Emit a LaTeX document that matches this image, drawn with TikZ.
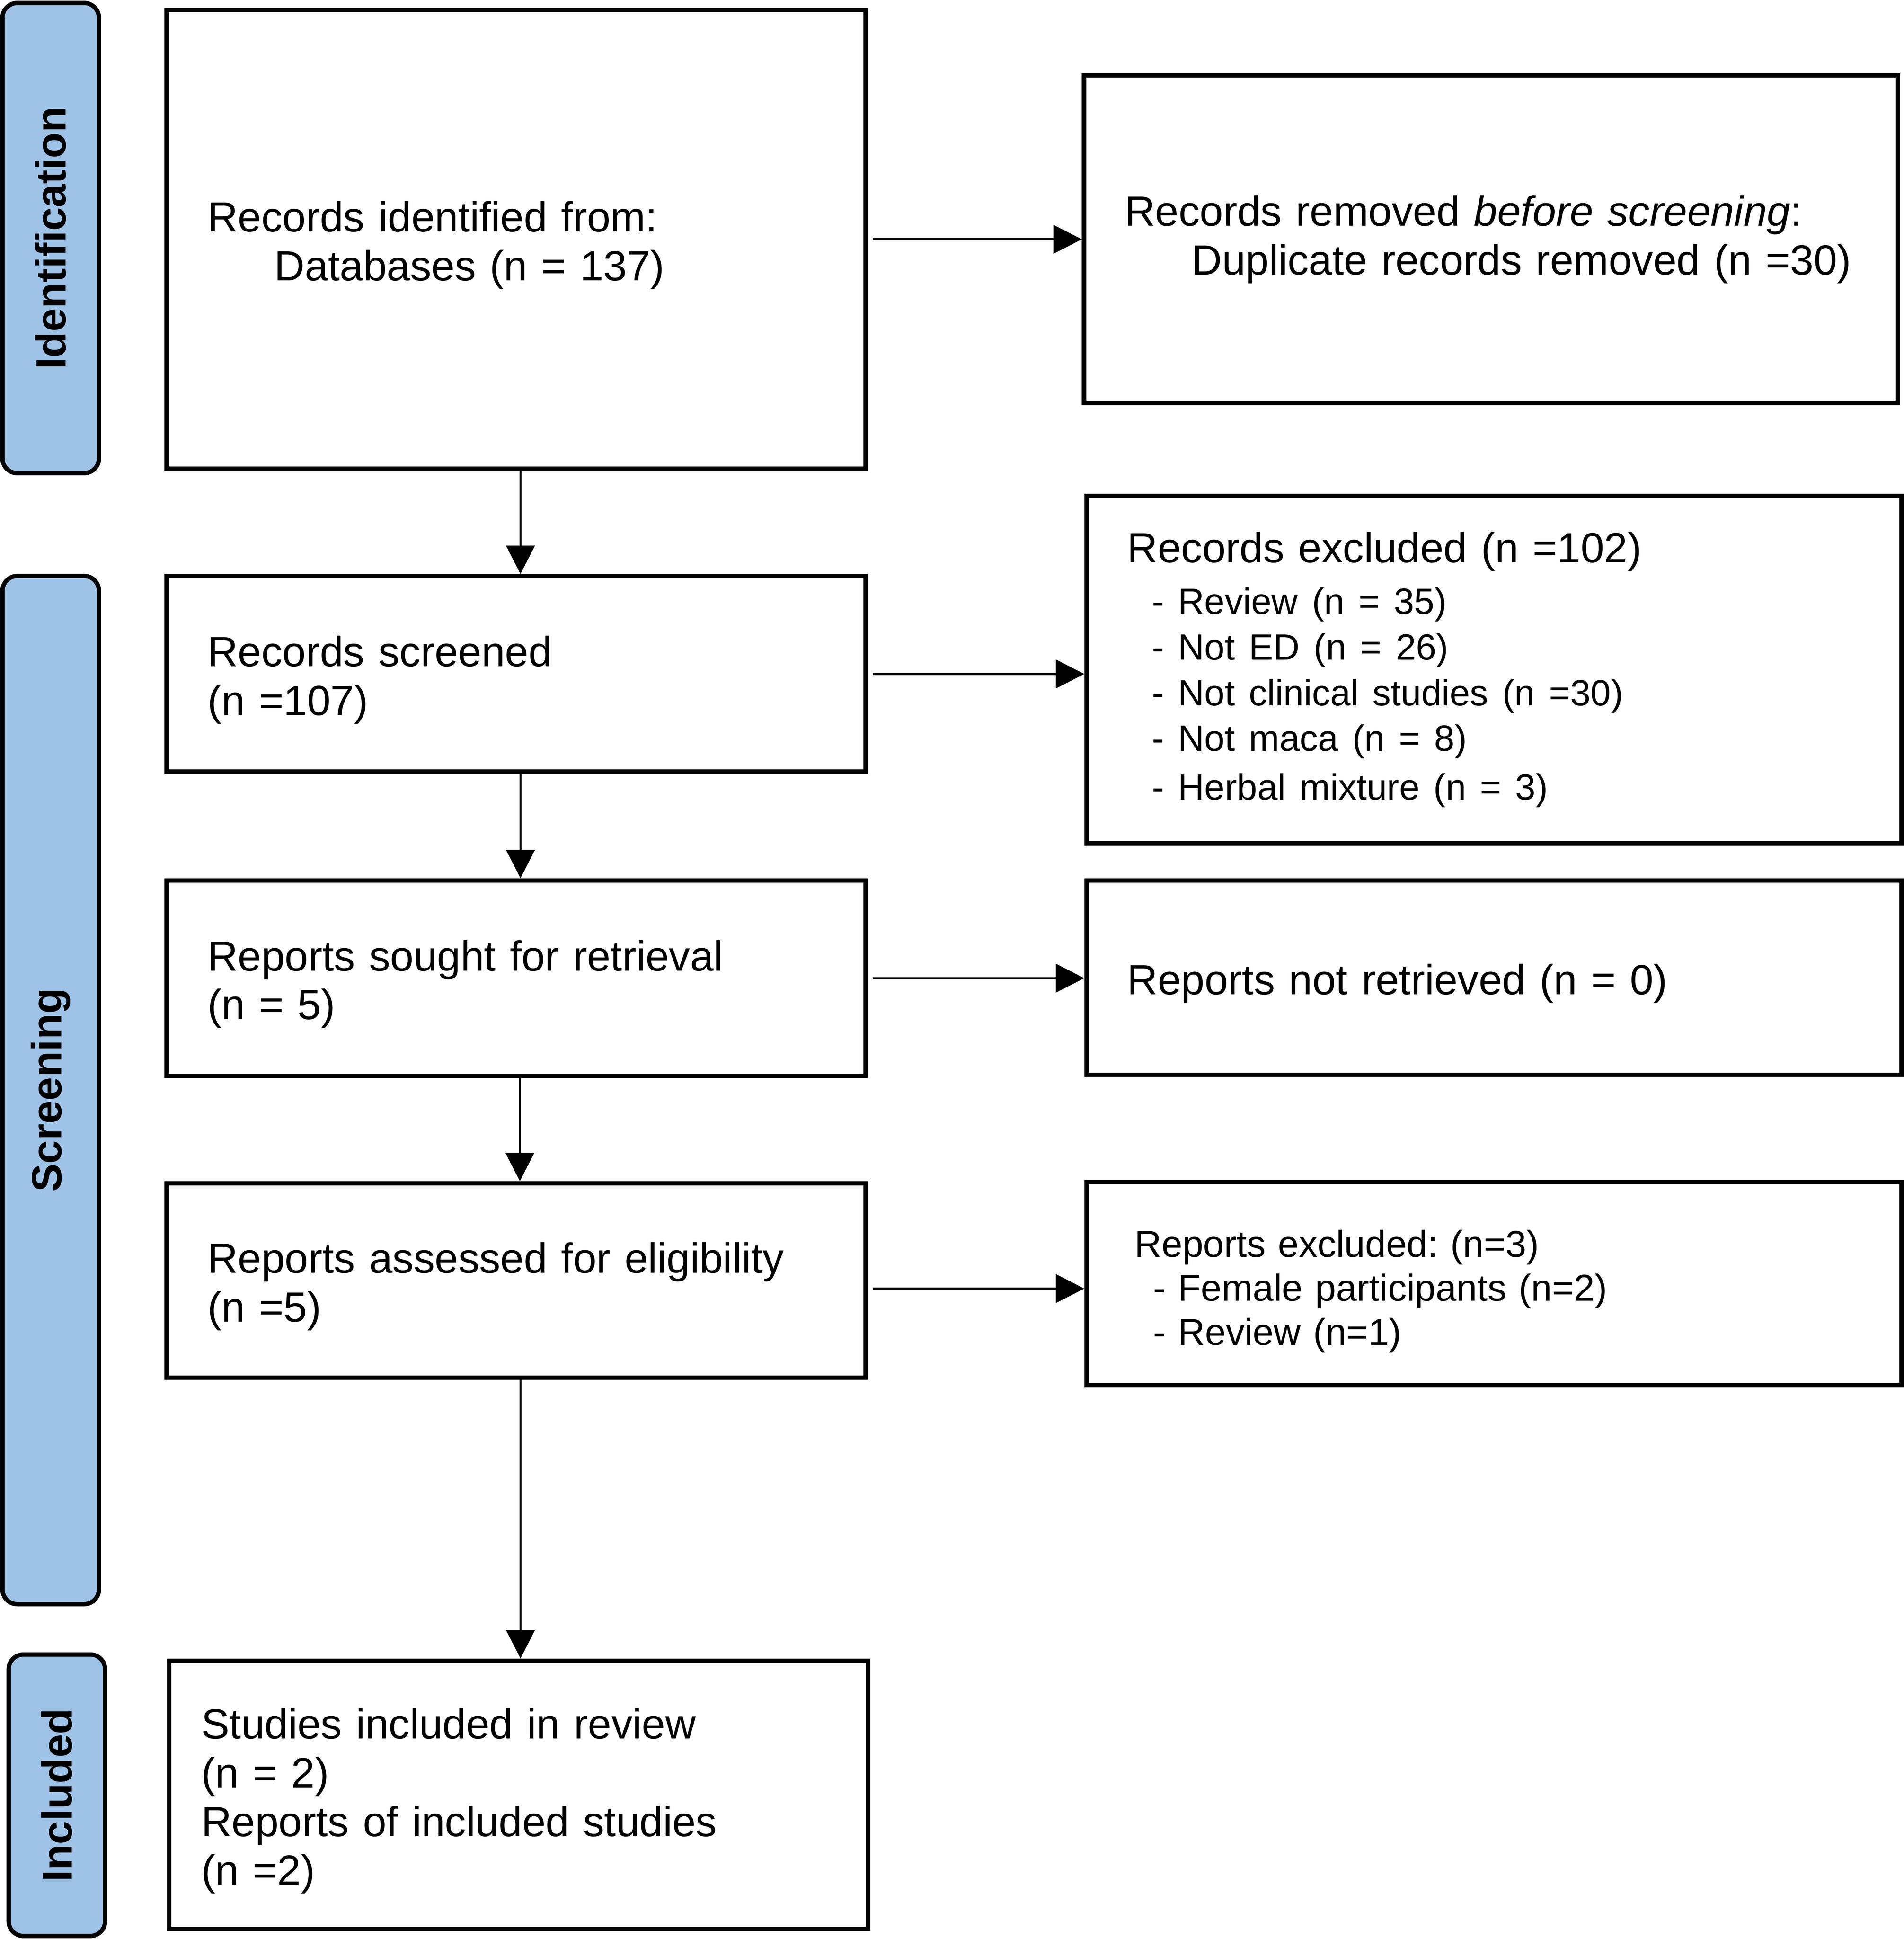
\documentclass[tikz,border=0pt]{standalone}
\usepackage{fontspec}
\setmainfont{Liberation Sans}
\usepackage{tikz}
\usetikzlibrary{positioning, arrows.meta}
\frenchspacing
\definecolor{stageblue}{RGB}{158,195,230}
\tikzstyle{box} = [draw, line width=1pt, rectangle, align=left, inner xsep=0.33cm, inner ysep=0pt, font=\fontsize{9.7}{11.2}\selectfont]
\tikzstyle{lowbox} = [box, execute at begin node={\rule{0pt}{9.8pt}}]
\tikzstyle{stage} = [draw, line width=1pt, rectangle, rounded corners=0.12cm, fill=stageblue, rotate=90, minimum height=0.78cm, inner sep=0pt, font=\fontsize{9.7}{11.2}\selectfont\bfseries]
\tikzstyle{arrow} = [line width=0.5pt, -{Triangle[length=0.23cm,width=0.23cm]}]

\begin{document}
\begin{tikzpicture}[x=0.01cm, y=-0.01cm]
  \useasboundingbox (0,0) rectangle (1540,1568);

  % Stage bars
  \node[stage, minimum width=3.8cm] (barid) at (41,192.5) {Identification};
  \node[stage, minimum width=8.31cm] (barscr) at (41,881.5) {Screening};
  \node[stage, minimum width=2.275cm] (barinc) at (46,1451.75) {Included};

  % Left column
  \node[lowbox, text width=4.99cm, minimum height=3.71cm] (ident) at (417.5,193.5)
    {Records identified from:\\\hspace*{0.54cm}Databases (n = 137)};
  \node[lowbox, text width=4.99cm, minimum height=1.58cm] (screened) at (417.5,545)
    {Records screened\\(n =107)};
  \node[lowbox, text width=4.99cm, minimum height=1.58cm] (sought) at (417.5,791)
    {Reports sought for retrieval\\(n = 5)};
  \node[lowbox, text width=4.99cm, minimum height=1.57cm] (assessed) at (417.5,1035.5)
    {Reports assessed for eligibility\\(n =5)};
  \node[lowbox, inner xsep=0.26cm, text width=5.13cm, minimum height=2.17cm] (included) at (419.5,1451.5)
    {Studies included in review\\(n = 2)\\Reports of included studies\\(n =2)};

  % Right column
  \node[box, text width=5.92cm, minimum height=2.65cm] (removed) at (1206,193.5)
    {Records removed \textit{before screening}:\\\hspace*{0.54cm}Duplicate records removed (n =30)};
  \node[box, text width=5.93cm, minimum height=2.81cm] (excluded) at (1208.5,541.5)
    {Records excluded (n =102)\\[1.4pt]\fontsize{8.4}{10.5}\selectfont
     \hspace*{0.2cm}- Review (n = 35)\\
     \hspace*{0.2cm}- Not ED (n = 26)\\
     \hspace*{0.2cm}- Not clinical studies (n =30)\\
     \hspace*{0.2cm}- Not maca (n = 8)\\
     \hspace*{0.2cm}- Herbal mixture (n = 3)};
  \node[lowbox, text width=5.93cm, minimum height=1.57cm] (notret) at (1208.5,790.5)
    {Reports not retrieved (n = 0)};
  \node[lowbox, inner xsep=0.39cm, text width=5.81cm, minimum height=1.64cm,
        font=\fontsize{8.6}{10.1}\selectfont] (repexcl) at (1208.5,1038)
    {Reports excluded: (n=3)\\
     \hspace*{0.15cm}- Female participants (n=2)\\
     \hspace*{0.15cm}- Review (n=1)};

  % Arrows down
  \draw[arrow] ([xshift=0.035cm]ident.south) -- ([xshift=0.035cm]screened.north);
  \draw[arrow] ([xshift=0.035cm]screened.south) -- ([xshift=0.035cm]sought.north);
  \draw[arrow] ([xshift=0.03cm]sought.south) -- ([xshift=0.03cm]assessed.north);
  \draw[arrow] ([xshift=0.035cm]assessed.south) -- ([xshift=0.035cm]assessed.south |- included.north);

  % Arrows right
  \draw[arrow, shorten <=0.04cm] (ident.east) -- (removed.west);
  \draw[arrow, shorten <=0.04cm] (screened.east) -- (screened.east -| excluded.west);
  \draw[arrow, shorten <=0.04cm] (sought.east) -- (sought.east -| notret.west);
  \draw[arrow, shorten <=0.04cm] ([yshift=-0.065cm]assessed.east) -- ([yshift=-0.065cm]assessed.east -| repexcl.west);
\end{tikzpicture}
\end{document}
